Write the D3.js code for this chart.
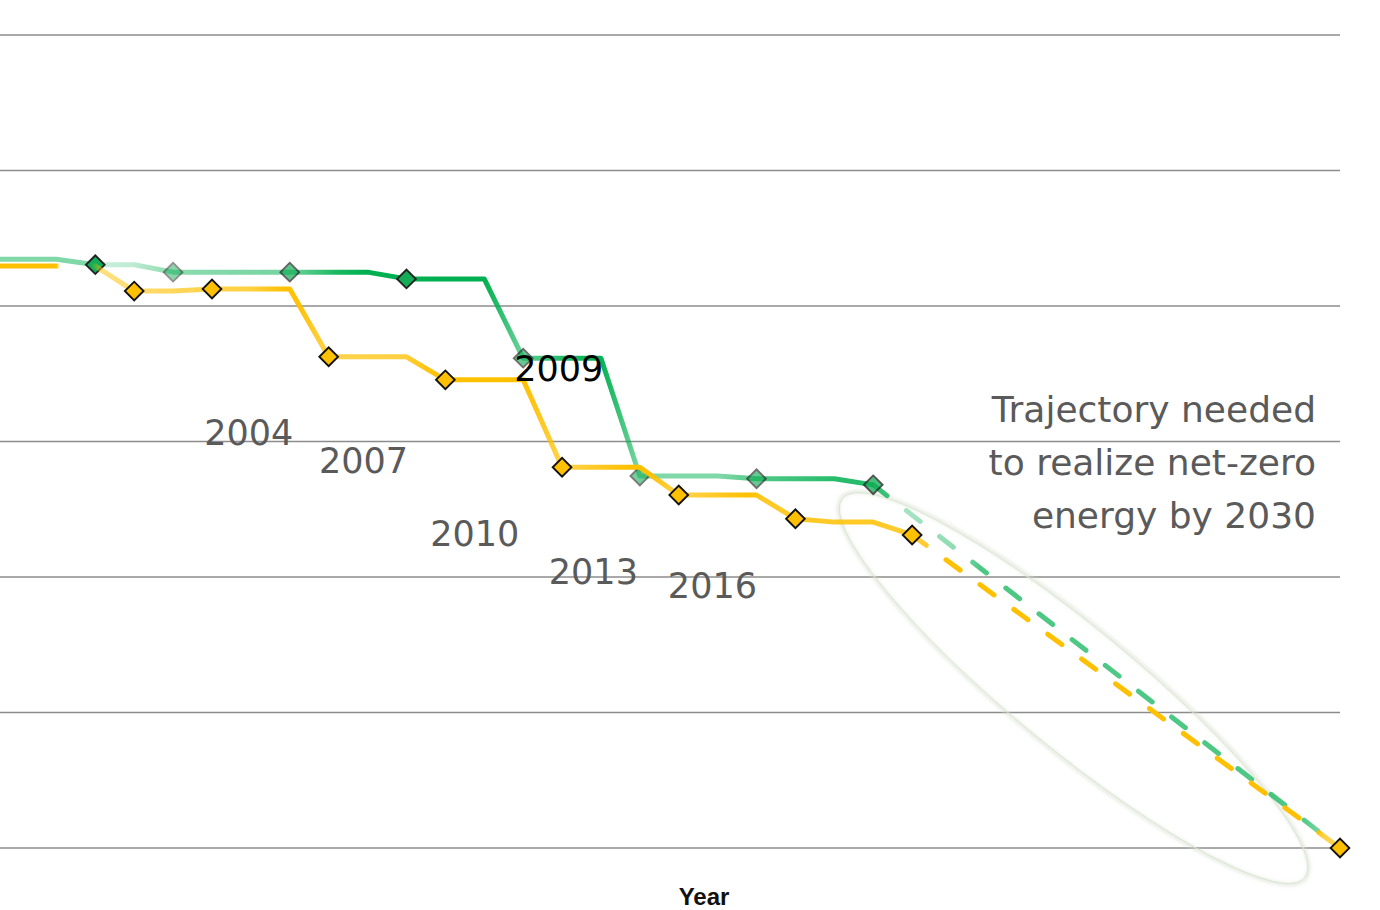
<!DOCTYPE html>
<html>
<head>
<meta charset="utf-8">
<script src="https://cdn.jsdelivr.net/npm/d3@7"></script>
<style>
  html, body { margin: 0; padding: 0; background: #ffffff; }
  svg { display: block; }
</style>
</head>
<body>
<svg id="chart" width="1380" height="910"></svg>
<script>
// ---------------- DATA ----------------
const gridValues = [0, 20, 40, 60, 80, 100, 120];

const greenYears  = [1995, 1997, 1998, 1999, 2000, 2003, 2005, 2006, 2008, 2009, 2011, 2012, 2014, 2015, 2017, 2018];
const greenValues = [86.9, 86.9, 86.1, 86.1, 85.0, 85.0, 85.0, 84.0, 84.0, 72.3, 72.3, 54.9, 54.9, 54.5, 54.5, 53.6];
const greenEditions = [1998, 2000, 2003, 2006, 2009, 2012, 2015, 2018];

const yellowYears  = [1995, 1997, 1998, 1999, 2000, 2001, 2003, 2004, 2006, 2007, 2009, 2010, 2012, 2013, 2015, 2016, 2017, 2018, 2019];
const yellowValues = [85.9, 85.9, 85.9, 82.2, 82.2, 82.5, 82.5, 72.5, 72.5, 69.1, 69.1, 56.2, 56.2, 52.1, 52.1, 48.6, 48.1, 48.1, 46.2];
const yellowEditions = [1999, 2001, 2004, 2007, 2010, 2013, 2016, 2019];

const targetYear = 2030;
const targetValue = 0;

// edition labels (text, anchor year, anchor value)
const labelTexts  = ["2004", "2007", "2010", "2013", "2016"];
const labelYears  = [2000.80, 2003.75, 2006.61, 2009.66, 2012.72];
const labelValues = [59.5, 55.35, 44.6, 38.97, 36.9];

const highlightText = "2009";
const highlightYear = 2008.77;
const highlightValue = 68.9;

const annotationLines = ["Trajectory needed", "to realize net-zero", "energy by 2030"];
const xAxisTitle = "Year";

// ---------------- STYLE ----------------
const W = 1380, H = 910;
const GREEN = "#00b050", YELLOW = "#ffc000";
// [year, opacity] gradient stops along each line
const greenStops = [[1995.55,0.5],[1997.0,0.5],[1997.74,0.5],[1998.25,0.22],[1998.9,0.25],[1999.99,0.45],
  [2003.0,0.55],[2004.2,0.9],[2004.93,1],[2008.0,1],[2008.92,0.6],[2009.95,0.85],[2010.97,1],
  [2012.03,0.5],[2014.06,0.5],[2015.0,0.68],[2017.0,0.85],[2018.0,0.85],[2018.56,0.7],[2018.8,0.35],
  [2020.23,0.45],[2020.74,0.7],[2028.97,0.7],[2029.61,0.5],[2030,0.5]];
const yellowStops = [[1995.55,1],[1997.0,1],[1997.09,0],[1997.9,0],[1998.12,0.5],[1999.02,0.55],
  [2000.05,0.65],[2001.98,0.75],[2002.88,1],[2003.3,0.95],[2004.0,0.7],[2005.83,0.75],[2006.86,1],
  [2008.99,1],[2010.02,0.7],[2011.75,1],[2012.15,1],[2013.03,0.7],[2014.83,1],[2015.2,0.85],
  [2018.02,0.85],[2019.02,0.8],[2019.6,0.8],[2019.84,1],[2029.36,1],[2029.62,0.7],[2030,0.7]];
const greenMarkerOpacity = [1, 0.5, 0.7, 1, 0.65, 0.6, 0.65, 0.78];

// ---------------- SCALES ----------------
const x = d3.scaleLinear().domain([1995.55, 2030]).range([0, 1340]);
const y = d3.scaleLinear().domain([0, 120]).range([848, 35]);

const svg = d3.select("#chart");
const defs = svg.append("defs");

function makeGradient(id, color, stops) {
  const g = defs.append("linearGradient").attr("id", id)
    .attr("gradientUnits", "userSpaceOnUse")
    .attr("x1", 0).attr("y1", 0).attr("x2", W).attr("y2", 0);
  g.selectAll("stop").data(stops).join("stop")
    .attr("offset", d => Math.max(0, Math.min(1, x(d[0]) / W)))
    .attr("stop-color", color)
    .attr("stop-opacity", d => d[1]);
}
makeGradient("gGreen", GREEN, greenStops);
makeGradient("gYellow", YELLOW, yellowStops);

const blur = defs.append("filter").attr("id", "soft").attr("x", "-20%").attr("y", "-20%").attr("width", "140%").attr("height", "140%");
blur.append("feGaussianBlur").attr("stdDeviation", 1.6);

// ---------------- GRID ----------------
svg.append("g").selectAll("line").data(gridValues).join("line")
  .attr("x1", x.range()[0]).attr("x2", x.range()[1])
  .attr("y1", d => y(d)).attr("y2", d => y(d))
  .attr("stroke", "#8c8c8c").attr("stroke-width", 1.7);

// ---------------- ANNOTATION ELLIPSE ----------------
const lastG = [greenYears[greenYears.length - 1], greenValues[greenValues.length - 1]];
const cx = (x(lastG[0]) + x(targetYear)) / 2 - 33;
const cy = (y(lastG[1] - 3) + y(targetValue)) / 2 + 11.5;
const ang = Math.atan2(y(targetValue) - y(lastG[1]), x(targetYear) - x(lastG[0])) * 180 / Math.PI + 1.5;
const eg = svg.append("g").attr("transform", `translate(${cx},${cy}) rotate(${ang})`);
eg.append("ellipse").attr("rx", 300).attr("ry", 62)
  .attr("fill", "none").attr("stroke", "#d8d8ce").attr("stroke-width", 4).attr("opacity", 0.5)
  .attr("filter", "url(#soft)");
eg.append("ellipse").attr("rx", 299).attr("ry", 61)
  .attr("fill", "none").attr("stroke", "#d3e9cd").attr("stroke-width", 0.9);

// ---------------- LINES ----------------
const line = d3.line().x(d => x(d[0])).y(d => y(d[1]));
const greenPts = greenYears.map((yr, i) => [yr, greenValues[i]]);
const yellowPts = yellowYears.map((yr, i) => [yr, yellowValues[i]]);
const lookup = (pts, yr) => pts.find(p => p[0] === yr);

const diamond = d3.symbol().type(d3.symbolSquare).size(175);

function drawSeries(pts, editions, grad, color, markerOpacity, strokeCol, withTarget) {
  const g = svg.append("g");
  g.append("path").datum(pts).attr("d", line)
    .attr("fill", "none").attr("stroke", `url(#${grad})`)
    .attr("stroke-width", 5).attr("stroke-linejoin", "round");
  g.append("path").datum([pts[pts.length - 1], [targetYear, targetValue]]).attr("d", line)
    .attr("fill", "none").attr("stroke", `url(#${grad})`)
    .attr("stroke-width", 5).attr("stroke-linecap", "round")
    .attr("stroke-dasharray", "17.5,24.5");
  const mk = editions.map(e => lookup(pts, e));
  if (withTarget) mk.push([targetYear, targetValue]);
  g.selectAll("path.mk").data(mk).join("path").attr("class", "mk")
    .attr("d", diamond)
    .attr("transform", d => `translate(${x(d[0])},${y(d[1])}) rotate(45)`)
    .attr("fill", color).attr("stroke", strokeCol).attr("stroke-width", 1.9)
    .attr("opacity", (d, i) => markerOpacity ? (markerOpacity[i] ?? 1) : 1);
}
drawSeries(greenPts, greenEditions, "gGreen", "#14ad57", greenMarkerOpacity, "#222", false);
drawSeries(yellowPts, yellowEditions, "gYellow", YELLOW, null, "#111", true);

// ---------------- TEXT ----------------
const font = "'DejaVu Sans', sans-serif";
svg.append("g").selectAll("text").data(labelTexts).join("text")
  .attr("x", (d, i) => x(labelYears[i]))
  .attr("y", (d, i) => y(labelValues[i]))
  .attr("font-family", font).attr("font-size", 35).attr("fill", "#5a5a5a")
  .text(d => d);

svg.append("text")
  .attr("x", x(highlightYear)).attr("y", y(highlightValue))
  .attr("font-family", font).attr("font-size", 35).attr("fill", "#000")
  .text(highlightText);

svg.append("g").selectAll("text").data(annotationLines).join("text")
  .attr("x", 1316).attr("y", (d, i) => 422 + i * 53)
  .attr("text-anchor", "end")
  .attr("font-family", font).attr("font-size", 36).attr("fill", "#5a5a5a")
  .text(d => d);

svg.append("text")
  .attr("x", 704).attr("y", 905).attr("text-anchor", "middle")
  .attr("font-family", "'Liberation Sans', Arial, sans-serif").attr("font-weight", "bold")
  .attr("font-size", 24).attr("fill", "#111")
  .text(xAxisTitle);
</script>
</body>
</html>
